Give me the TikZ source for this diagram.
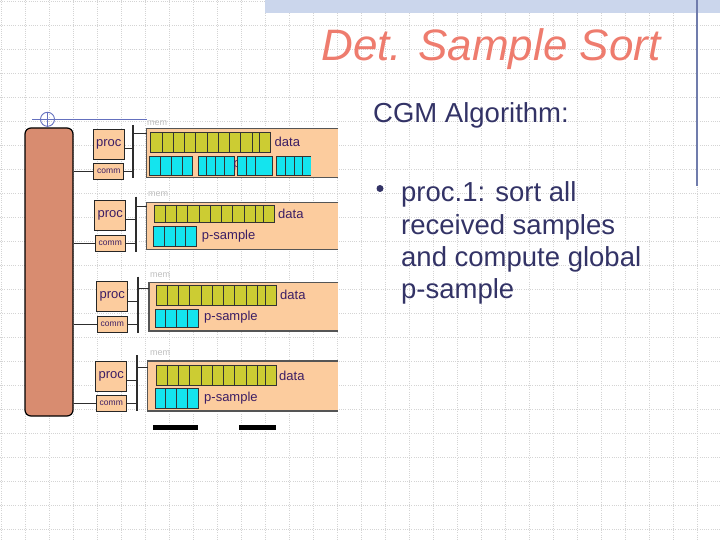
\documentclass[tikz,border=0pt]{standalone}
\usepackage{fontspec}
\setmainfont{Liberation Sans}
\definecolor{gridc}{RGB}{212,212,212}
\definecolor{bandc}{RGB}{203,214,236}
\definecolor{vlinec}{RGB}{112,124,172}
\definecolor{titlec}{RGB}{238,124,110}
\definecolor{textc}{RGB}{51,51,102}
\definecolor{busc}{RGB}{45,45,45}
\definecolor{bigc}{RGB}{216,140,112}
\definecolor{peach}{RGB}{252,204,158}
\definecolor{labc}{RGB}{60,30,100}
\definecolor{olivec}{RGB}{204,204,51}
\definecolor{cyanc}{RGB}{20,228,238}
\definecolor{anchorc}{RGB}{100,112,190}
\definecolor{memlabc}{RGB}{190,190,190}
\definecolor{memlinec}{RGB}{85,85,85}
\tikzset{
  gridline/.style={draw=gridc, line width=0.5pt, dash pattern=on 1pt off 1.2pt},
  procbox/.style={draw=black!85, fill=peach, line width=0.8pt, inner sep=0pt,
    minimum width=31pt, minimum height=30pt, text=labc, font=\fontsize{13}{15}\selectfont},
  commbox/.style={draw=black!85, fill=peach, line width=0.8pt, inner sep=0pt,
    minimum width=30pt, minimum height=16pt, text=labc, font=\fontsize{8.5}{10}\selectfont},
  membox/.style={fill=peach, inner sep=0pt, anchor=north west},
  memline/.style={draw=memlinec, line width=1.3pt},
  busline/.style={draw=busc, line width=1.8pt},
  wire/.style={draw=busc, line width=1.2pt},
  cellline/.style={draw=black!80, line width=0.8pt},
  lab/.style={inner sep=0pt, anchor=base west, text=labc, font=\fontsize{13}{15}\selectfont},
  memlab/.style={inner sep=0pt, anchor=west, text=memlabc, font=\fontsize{9}{10}\selectfont},
  bodytext/.style={inner sep=0pt, anchor=base west, text=textc, font=\fontsize{27.5}{33}\selectfont}
}
\newcommand{\datastrip}[3]{%
  \draw[cellline, fill=olivec] (#1,#2) rectangle ({#1+120},#3);
  \foreach \k in {11.3,22.5,33.8,45,56.3,67.5,78.8,90,101.3,109}{\draw[cellline] ({#1+\k},#2) -- ({#1+\k},#3);}
}
\newcommand{\psstrip}[3]{%
  \draw[cellline, fill=cyanc] (#1,#2) rectangle ({#1+43.3},#3);
  \foreach \k in {10.8,21.7,32.5}{\draw[cellline] ({#1+\k},#2) -- ({#1+\k},#3);}
}
\begin{document}
\begin{tikzpicture}[x=1pt,y=-1pt]
\useasboundingbox (0,0) rectangle (720,540);
% background grid
\foreach \gx in {1,25,...,720} \draw[gridline] (\gx,0) -- (\gx,540);
\foreach \gy in {1,25,...,540} \draw[gridline] (0,\gy) -- (720,\gy);
% top band and right rule
\fill[bandc] (265,0) rectangle (720,13);
\draw[vlinec, line width=1.2pt] (697,0) -- (697,186);
% title and text
\node[anchor=base, inner sep=0pt, text=titlec, font=\fontsize{44}{50}\selectfont\itshape] (title) at (491,61) {Det. Sample Sort};
\node[bodytext] (cgm) at (373,122.3) {CGM Algorithm:};
\node[circle, fill=textc, inner sep=0pt, minimum size=7pt] (bul) at (380,188.5) {};
\node[bodytext] (l1) at (401,201.7) {proc.1: sort all};
\node[bodytext] (l2) at (401,234.3) {received samples};
\node[bodytext] (l3) at (401,266.7) {and compute global};
\node[bodytext] (l4) at (401,298.3) {p-sample};
% big machine box
\node[draw=black, line width=1.2pt, fill=bigc, rounded corners=6pt, minimum width=48pt, minimum height=288pt, inner sep=0pt] (big) at (49,272) {};
% anchor symbol and blue line
\draw[anchorc, line width=1pt] (32,119.3) -- (147,119.3);
\node[draw=anchorc, line width=0.9pt, circle, minimum size=14pt, inner sep=0pt] (anc) at (47.5,119.3) {};
\draw[anchorc, line width=1pt] (47.7,111.7) -- (47.7,127.5);

% ---------- row 1 ----------
\node[memlab] (ml1) at (147,123) {mem};
\node[membox, minimum width=191.3pt, minimum height=49pt] (mem1) at (146.7,128.3) {};
\draw[memline] (mem1.north east) -- (mem1.north west) -- (mem1.south west) -- (mem1.south east);
\node[procbox] (proc1) at (108.7,144.2) {proc};
\node[commbox] (comm1) at (108.8,171.7) {comm};
\coordinate (b1) at (133.3,125); \coordinate (b1e) at (133.3,178.3);
\draw[busline] (b1) -- (b1e);
\path ([yshift=-4pt]proc1.east) coordinate (pp1);
\path ([yshift=-5pt]mem1.north west) coordinate (t1);
\draw[wire] (pp1) -- (pp1 -| b1);
\draw[wire] (comm1.east) -- (comm1.east -| b1);
\draw[wire] (t1 -| b1) -- (t1);
\draw[wire] (comm1.west -| big.east) -- (comm1.west);
\datastrip{150.7}{132.7}{152.3}
\node[lab] (d1) at (274.5,146.8) {data};
\draw[cellline, fill=cyanc] (149.3,156.7) rectangle (192.3,175);
\foreach \k in {160.7,171.7,182.3}{\draw[cellline] (\k,156.7) -- (\k,175);}
\draw[cellline, fill=cyanc] (198.3,156.7) rectangle (234,175);
\foreach \k in {206.7,215,224}{\draw[cellline] (\k,156.7) -- (\k,175);}
\node[lab] (p1) at (233.2,168) {p};
\draw[cellline, fill=cyanc] (237.3,156.7) rectangle (272.7,175);
\foreach \k in {246,255}{\draw[cellline] (\k,156.7) -- (\k,175);}
\fill[cyanc] (276.7,156.7) rectangle (310.7,175);
\draw[cellline] (310.7,156.7) -- (276.7,156.7) -- (276.7,175) -- (310.7,175);
\foreach \k in {285,294,302}{\draw[cellline] (\k,156.7) -- (\k,175);}

% ---------- row 2 ----------
\node[memlab] (ml2) at (148,194) {mem};
\node[membox, minimum width=191.3pt, minimum height=46.7pt] (mem2) at (146.7,202.3) {};
\draw[memline] (mem2.north east) -- (mem2.north west) -- (mem2.south west) -- (mem2.south east);
\node[procbox] (proc2) at (110.3,215.7) {proc};
\node[commbox] (comm2) at (110.3,243.7) {comm};
\coordinate (b2) at (136,196.7); \coordinate (b2e) at (136,252);
\draw[busline] (b2) -- (b2e);
\path ([yshift=-4pt]proc2.east) coordinate (pp2);
\path ([yshift=-4.5pt]mem2.north west) coordinate (t2);
\draw[wire] (pp2) -- (pp2 -| b2);
\draw[wire] (comm2.east) -- (comm2.east -| b2);
\draw[wire] (t2 -| b2) -- (t2);
\draw[wire] (comm2.west -| big.east) -- (comm2.west);
\datastrip{154}{205}{222.7}
\node[lab] (d2) at (278,218.3) {data};
\psstrip{153.3}{226.7}{246}
\node[lab] (s2) at (201.7,239.5) {p-sample};

% ---------- row 3 ----------
\node[memlab] (ml3) at (150,275) {mem};
\node[membox, minimum width=189pt, minimum height=48.4pt] (mem3) at (149,282.3) {};
\draw[memline] (mem3.north east) -- (mem3.north west) -- (mem3.south west) -- (mem3.south east);
\node[procbox] (proc3) at (112.2,296.3) {proc};
\node[commbox] (comm3) at (112.3,324.2) {comm};
\coordinate (b3) at (138.3,276.7); \coordinate (b3e) at (138.3,333.3);
\draw[busline] (b3) -- (b3e);
\path ([yshift=-5pt]proc3.east) coordinate (pp3);
\path ([yshift=-6pt]mem3.north west) coordinate (t3);
\draw[wire] (pp3) -- (pp3 -| b3);
\draw[wire] (comm3.east) -- (comm3.east -| b3);
\draw[wire] (t3 -| b3) -- (t3);
\draw[wire] (comm3.west -| big.east) -- (comm3.west);
\datastrip{156}{285.7}{305}
\node[lab] (d3) at (280,299.8) {data};
\psstrip{155}{309.3}{327.3}
\node[lab] (s3) at (204,320.8) {p-sample};

% ---------- row 4 ----------
\node[memlab] (ml4) at (150,353.3) {mem};
\node[membox, minimum width=190.3pt, minimum height=49.7pt] (mem4) at (147.7,361) {};
\draw[memline] (mem4.north east) -- (mem4.north west) -- (mem4.south west) -- (mem4.south east);
\node[procbox] (proc4) at (111.3,376.3) {proc};
\node[commbox] (comm4) at (111.3,403.7) {comm};
\coordinate (b4) at (137.3,355); \coordinate (b4e) at (137.3,411);
\draw[busline] (b4) -- (b4e);
\path ([yshift=-4pt]proc4.east) coordinate (pp4);
\path ([yshift=-6.5pt]mem4.north west) coordinate (t4);
\draw[wire] (pp4) -- (pp4 -| b4);
\draw[wire] (comm4.east) -- (comm4.east -| b4);
\draw[wire] (t4 -| b4) -- (t4);
\draw[wire] (comm4.west -| big.east) -- (comm4.west);
\datastrip{156}{365.7}{385.7}
\node[lab] (d4) at (279,380) {data};
\psstrip{155}{388.3}{408.3}
\node[lab] (s4) at (204,401.5) {p-sample};

% bottom bars
\fill[black] (153.3,425) rectangle (198.3,429.5);
\fill[black] (239.3,425) rectangle (276,429.5);
\end{tikzpicture}
\end{document}
